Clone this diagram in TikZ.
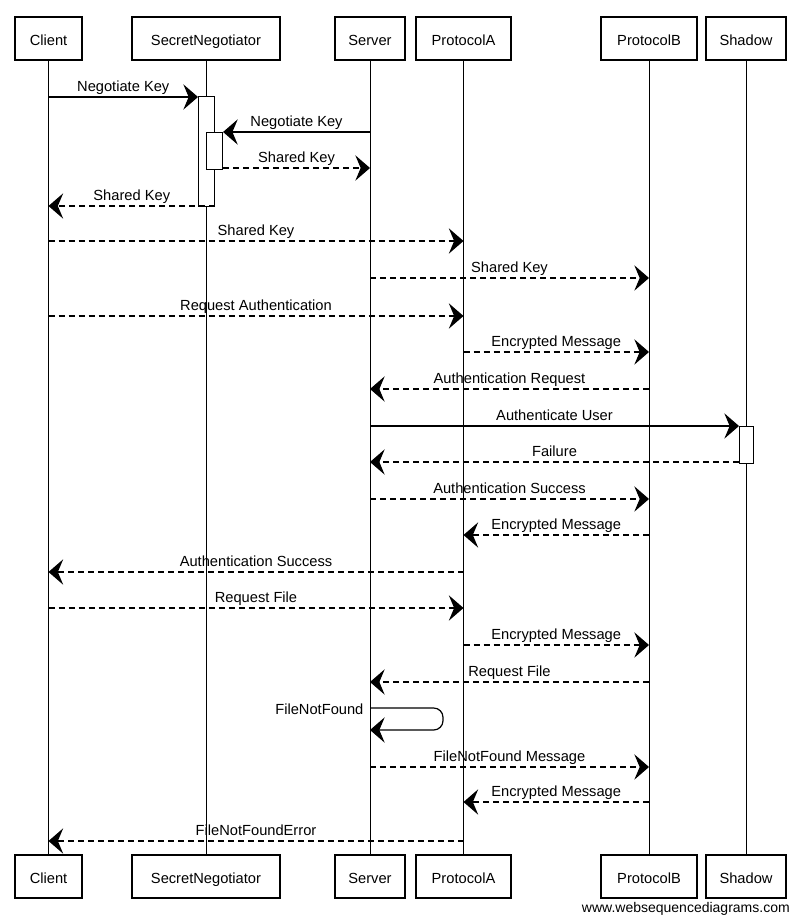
\documentclass[tikz,border=0pt]{standalone}
\usepackage{fontspec}
\setmainfont{Liberation Sans}
\usetikzlibrary{arrows.meta,calc}

\begin{document}
\begin{tikzpicture}[x=0.75pt,y=-0.75pt,
  party/.style={draw, line width=0.9pt, fill=white, minimum height=32.25pt,
    inner sep=0pt, font=\fontsize{11}{13}\selectfont,
    text height=1em, text depth=0pt},
  life/.style={line width=0.7pt},
  act/.style={draw, line width=0.8pt, fill=white, inner sep=0pt, anchor=north west},
  call/.style={line width=0.9pt, -{Stealth[length=11pt,width=19pt,inset=4pt]}},
  reply/.style={call, dash pattern=on 4.5pt off 3pt},
  lbl/.style={font=\fontsize{11}{13}\selectfont, above=0.5pt, inner sep=1pt,
    text height=0.72em, text depth=0.22em}
]
% canvas
\path[fill=white, use as bounding box] (0,0) rectangle (800,923);

% participants, top row
\node[party, minimum width=50.25pt] (cT)  at (48.5,38.5)  {Client};
\node[party, minimum width=111pt]   (snT) at (206,38.5)   {SecretNegotiator};
\node[party, minimum width=52.5pt]  (svT) at (370,38.5)   {Server};
\node[party, minimum width=71.25pt] (paT) at (463.5,38.5) {ProtocolA};
\node[party, minimum width=72pt]    (pbT) at (649,38.5)   {ProtocolB};
\node[party, minimum width=60pt]    (shT) at (746,38.5)   {Shadow};

% participants, bottom row
\node[party, minimum width=50.25pt] (cB)  at (48.5,876.5)  {Client};
\node[party, minimum width=111pt]   (snB) at (206,876.5)   {SecretNegotiator};
\node[party, minimum width=52.5pt]  (svB) at (370,876.5)   {Server};
\node[party, minimum width=71.25pt] (paB) at (463.5,876.5) {ProtocolA};
\node[party, minimum width=72pt]    (pbB) at (649,876.5)   {ProtocolB};
\node[party, minimum width=60pt]    (shB) at (746,876.5)   {Shadow};

% lifelines
\foreach \p in {c,sn,sv,pa,pb,sh}
  \draw[life] (\p T.south) -- (\p B.north);

% activation bars
\node[act, minimum width=12pt, minimum height=82.5pt]   (snA)  at (198,96)  {};
\node[act, minimum width=12pt, minimum height=27.75pt]  (snA2) at (206,132) {};
\node[act, minimum width=10.5pt, minimum height=27.75pt] (shA) at (739,426) {};

% messages
\draw[call]  (cT |- 0,97)    -- node[lbl]{Negotiate Key} (snA.west |- 0,97);
\draw[call]  (svT |- 0,132)  -- node[lbl]{Negotiate Key} (snA2.east |- 0,132);
\draw[reply] (snA2.east |- 0,168) -- node[lbl]{Shared Key} (svT |- 0,168);
\draw[reply] (snA.east |- 0,206)  -- node[lbl]{Shared Key} (cT |- 0,206);
\draw[reply] (cT |- 0,241)   -- node[lbl]{Shared Key} (paT |- 0,241);
\draw[reply] (svT |- 0,278)  -- node[lbl]{Shared Key} (pbT |- 0,278);
\draw[reply] (cT |- 0,316)   -- node[lbl]{Request Authentication} (paT |- 0,316);
\draw[reply] (paT |- 0,352)  -- node[lbl]{Encrypted Message} (pbT |- 0,352);
\draw[reply] (pbT |- 0,389)  -- node[lbl]{Authentication Request} (svT |- 0,389);
\draw[call]  (svT |- 0,426)  -- node[lbl]{Authenticate User} (shA.west |- 0,426);
\draw[reply] (shA.west |- 0,462) -- node[lbl]{Failure} (svT |- 0,462);
\draw[reply] (svT |- 0,499)  -- node[lbl]{Authentication Success} (pbT |- 0,499);
\draw[reply] (pbT |- 0,535)  -- node[lbl]{Encrypted Message} (paT |- 0,535);
\draw[reply] (paT |- 0,572)  -- node[lbl]{Authentication Success} (cT |- 0,572);
\draw[reply] (cT |- 0,608)   -- node[lbl]{Request File} (paT |- 0,608);
\draw[reply] (paT |- 0,645)  -- node[lbl]{Encrypted Message} (pbT |- 0,645);
\draw[reply] (pbT |- 0,682)  -- node[lbl]{Request File} (svT |- 0,682);

% self call on the server
\draw[call, rounded corners=7pt] (svT |- 0,708) -- (443,708) -- (443,730) -- (svT |- 0,730);
\node[font=\fontsize{11}{13}\selectfont, anchor=east, inner sep=1pt] (fnf) at ($(svT |- 0,709)+(-5,0)$) {FileNotFound};

\draw[reply] (svT |- 0,767)  -- node[lbl]{FileNotFound Message} (pbT |- 0,767);
\draw[reply] (pbT |- 0,802)  -- node[lbl]{Encrypted Message} (paT |- 0,802);
\draw[reply] (paT |- 0,841)  -- node[lbl]{FileNotFoundError} (cT |- 0,841);

% footer
\node[font=\fontsize{10.5}{12}\selectfont, anchor=east, inner sep=0pt] (wsd) at (790,909) {www.websequencediagrams.com};
\end{tikzpicture}
\end{document}
